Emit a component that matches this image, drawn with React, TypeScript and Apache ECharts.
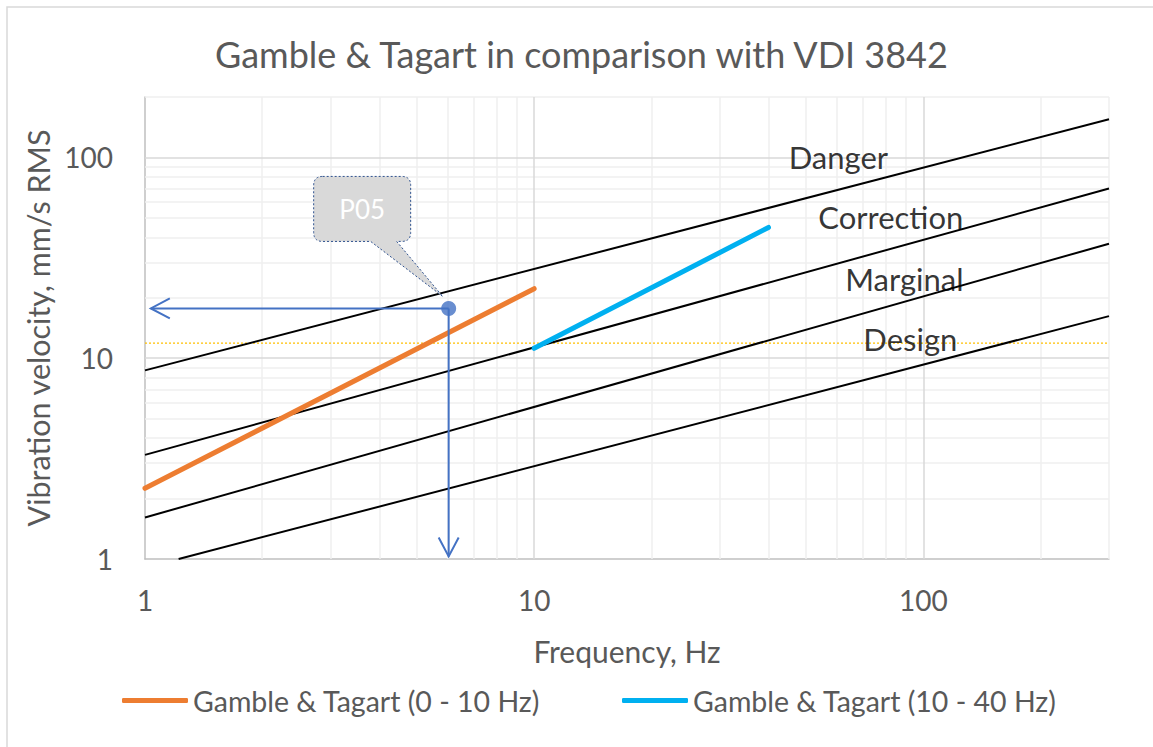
import React, { useEffect, useRef } from "react";
import * as echarts from "echarts";

const titleText = "Gamble & Tagart in comparison with VDI 3842";
const xAxisName = "Frequency, Hz";
const yAxisName = "Vibration velocity, mm/s RMS";
const xRange = [1, 300];
const yRange = [1, 200];
const xMajorGrid = [10, 100];
const xMinorGrid = [2, 3, 4, 5, 6, 7, 8, 9, 20, 30, 40, 50, 60, 70, 80, 90, 200, 300];
const yMajorGrid = [10, 100];
const yMinorGrid = [2, 3, 4, 5, 6, 7, 8, 9, 20, 30, 40, 50, 60, 70, 80, 90, 200];

const vdiNames = ["Danger", "Correction", "Marginal", "Design"];
const dangerLine = [[1, 8.7], [300, 155]];
const correctionLine = [[1, 3.3], [300, 70]];
const marginalLine = [[1, 1.61], [300, 37.2]];
const designLine = [[1.22, 1], [300, 16.2]];
const vdiLabelPositions = [[60.5, 101], [82.5, 50.4], [89.4, 24.7], [92.6, 12.4]];

const lowSeriesName = "Gamble & Tagart (0 - 10 Hz)";
const highSeriesName = "Gamble & Tagart (10 - 40 Hz)";
const gambleLow = [[1, 2.25], [10, 22.2]];
const gambleHigh = [[10, 11.2], [40, 44.8]];

const referenceLevel = 11.9;
const referenceLine = [[1, referenceLevel], [300, referenceLevel]];

const pointName = "P05";
const pointP05 = [6.03, 17.7];
const arrowTargets = [[1.035, 17.7], [6.03, 1.03]];

const FONT = "Lato";
const GREY_TEXT = "#595959";
const ARROW = "#4472C4";

export default function App() {
  const ref = useRef<HTMLDivElement>(null);
  useEffect(() => {
    if (!ref.current) return;
    const chart = echarts.init(ref.current, undefined, { renderer: "svg" });

    const decadeLabel = (v: number) => {
      const l = Math.log10(v);
      return Math.abs(l - Math.round(l)) < 1e-6 ? String(Math.round(Math.pow(10, Math.round(l)))) : "";
    };

    const gridMarks: any[] = [];
    xMinorGrid.forEach((v) => gridMarks.push({ xAxis: v, lineStyle: { color: "#EFEFEF", width: 1.5, type: "solid" } }));
    yMinorGrid.forEach((v) => gridMarks.push({ yAxis: v, lineStyle: { color: "#EFEFEF", width: 1.5, type: "solid" } }));
    xMajorGrid.forEach((v) => gridMarks.push({ xAxis: v, lineStyle: { color: "#D9D9D9", width: 1.5, type: "solid" } }));
    yMajorGrid.forEach((v) => gridMarks.push({ yAxis: v, lineStyle: { color: "#D9D9D9", width: 1.5, type: "solid" } }));

    const vdiData = [dangerLine, correctionLine, marginalLine, designLine];

    const arrowData = arrowTargets.map((t) => [pointP05[0], pointP05[1], t[0], t[1]]);

    const option: any = {
      animation: false,
      backgroundColor: "#ffffff",
      textStyle: { fontFamily: FONT },
      title: {
        text: titleText,
        left: 215,
        top: 36,
        padding: 0,
        textStyle: { fontFamily: FONT, fontSize: 36, fontWeight: "normal", color: GREY_TEXT },
      },
      legend: [
        {
          data: [lowSeriesName],
          left: 122,
          top: 686,
          padding: 0,
          icon: "roundRect",
          itemWidth: 66,
          itemHeight: 5,
          textStyle: { fontFamily: FONT, fontSize: 28.5, color: GREY_TEXT },
        },
        {
          data: [highSeriesName],
          left: 622,
          top: 686,
          padding: 0,
          icon: "roundRect",
          itemWidth: 66,
          itemHeight: 5,
          textStyle: { fontFamily: FONT, fontSize: 28.5, color: GREY_TEXT },
        },
      ],
      grid: { left: 145, right: 44, top: 97, bottom: 188, containLabel: false, outerBoundsMode: "none" },
      xAxis: {
        type: "log",
        logBase: 10,
        min: xRange[0],
        max: xRange[1],
        name: xAxisName,
        nameLocation: "middle",
        nameGap: 77,
        nameTextStyle: { fontFamily: FONT, fontSize: 30, color: GREY_TEXT },
        axisLine: { show: true, lineStyle: { color: "#BFBFBF", width: 1.5 } },
        axisTick: { show: false },
        splitLine: { show: false },
        axisLabel: { formatter: decadeLabel, margin: 27, fontFamily: FONT, fontSize: 28, color: GREY_TEXT, showMaxLabel: false },
      },
      yAxis: {
        type: "log",
        logBase: 10,
        min: yRange[0],
        max: yRange[1],
        name: yAxisName,
        nameLocation: "middle",
        nameGap: 91,
        nameTextStyle: { fontFamily: FONT, fontSize: 30.5, color: GREY_TEXT },
        axisLine: { show: true, lineStyle: { color: "#BFBFBF", width: 1.5 } },
        axisTick: { show: false },
        splitLine: { show: false },
        axisLabel: { formatter: decadeLabel, margin: 32, fontFamily: FONT, fontSize: 28, color: GREY_TEXT, showMaxLabel: false },
      },
      graphic: [
        {
          type: "rect",
          shape: { x: 7, y: 7, width: 1300, height: 900 },
          style: { fill: "none", stroke: "#D9D9D9", lineWidth: 1.5 },
          silent: true,
          z: -10,
        },
      ],
      series: [
        {
          name: "grid",
          type: "line",
          data: [],
          silent: true,
          z: 1,
          markLine: {
            z: 1,
            silent: true,
            symbol: ["none", "none"],
            label: { show: false },
            emphasis: { disabled: true },
            data: gridMarks,
          },
        },
        ...vdiNames.map((n, i) => ({
          name: n,
          type: "line",
          data: vdiData[i],
          showSymbol: false,
          symbol: "none",
          silent: true,
          z: 13,
          lineStyle: { color: "#000000", width: 2 },
        })),
        {
          name: "reference",
          type: "line",
          data: referenceLine,
          symbol: "none",
          silent: true,
          z: 12,
          lineStyle: { color: "#FFC000", width: 1.2, type: [2, 2] },
        },
        {
          name: lowSeriesName,
          type: "line",
          data: gambleLow,
          symbol: "none",
          z: 14,
          color: "#ED7D31",
          lineStyle: { color: "#ED7D31", width: 5, cap: "round" },
        },
        {
          name: highSeriesName,
          type: "line",
          data: gambleHigh,
          symbol: "none",
          z: 14,
          color: "#00B0F0",
          lineStyle: { color: "#00B0F0", width: 5, cap: "round" },
        },
        {
          name: "arrows",
          type: "custom",
          z: 15,
          silent: true,
          clip: false,
          data: arrowData,
          renderItem: (params: any, api: any) => {
            const p0 = api.coord([api.value(0), api.value(1)]);
            const p1 = api.coord([api.value(2), api.value(3)]);
            const dx = p1[0] - p0[0];
            const dy = p1[1] - p0[1];
            const len = Math.hypot(dx, dy) || 1;
            const ux = dx / len;
            const uy = dy / len;
            const nx = -uy;
            const ny = ux;
            const L = 19;
            const W = 10;
            return {
              type: "group",
              children: [
                { type: "line", shape: { x1: p0[0], y1: p0[1], x2: p1[0], y2: p1[1] }, style: { stroke: ARROW, lineWidth: 2 } },
                {
                  type: "polyline",
                  shape: {
                    points: [
                      [p1[0] - ux * L + nx * W, p1[1] - uy * L + ny * W],
                      [p1[0], p1[1]],
                      [p1[0] - ux * L - nx * W, p1[1] - uy * L - ny * W],
                    ],
                  },
                  style: { stroke: ARROW, lineWidth: 2, fill: "none" },
                },
              ],
            };
          },
        },
        {
          name: pointName,
          type: "scatter",
          data: [pointP05],
          symbolSize: 15,
          z: 16,
          itemStyle: { color: ARROW },
        },
        {
          name: "callout",
          type: "custom",
          z: 17,
          silent: true,
          clip: false,
          data: [pointP05],
          renderItem: (params: any, api: any) => {
            const p = api.coord([api.value(0), api.value(1)]);
            const px = p[0];
            const py = p[1];
            const x0 = px - 135, x1 = px - 38, y0 = py - 132, y1 = py - 67, r = 9;
            const d =
              `M ${x0 + r} ${y0} L ${x1 - r} ${y0} Q ${x1} ${y0} ${x1} ${y0 + r} L ${x1} ${y1 - r} Q ${x1} ${y1} ${x1 - r} ${y1} ` +
              `L ${px - 52} ${y1} L ${px - 6} ${py - 12} L ${px - 78} ${y1} L ${x0 + r} ${y1} Q ${x0} ${y1} ${x0} ${y1 - r} ` +
              `L ${x0} ${y0 + r} Q ${x0} ${y0} ${x0 + r} ${y0} Z`;
            return {
              type: "group",
              children: [
                { type: "path", shape: { pathData: d }, style: { fill: "#D9D9D9", stroke: "#2F528F", lineWidth: 1, lineDash: [2, 2] } },
                {
                  type: "text",
                  x: (x0 + x1) / 2,
                  y: (y0 + y1) / 2,
                  style: { text: pointName, fill: "#ffffff", fontFamily: FONT, fontSize: 26, align: "center", verticalAlign: "middle" },
                },
              ],
            };
          },
        },
        {
          name: "zone labels",
          type: "scatter",
          silent: true,
          z: 18,
          symbolSize: 1,
          itemStyle: { color: "rgba(0,0,0,0)" },
          data: vdiNames.map((n, i) => ({ name: n, value: vdiLabelPositions[i] })),
          label: {
            show: true,
            position: "inside",
            formatter: "{b}",
            fontFamily: FONT,
            fontSize: 31,
            color: "#000000",
          },
        },
      ],
    };
    chart.setOption(option);
    return () => chart.dispose();
  }, []);
  return <div ref={ref} style={{ position: "fixed", left: 0, top: 0, width: 1153, height: 747, background: "#fff" }} />;
}
